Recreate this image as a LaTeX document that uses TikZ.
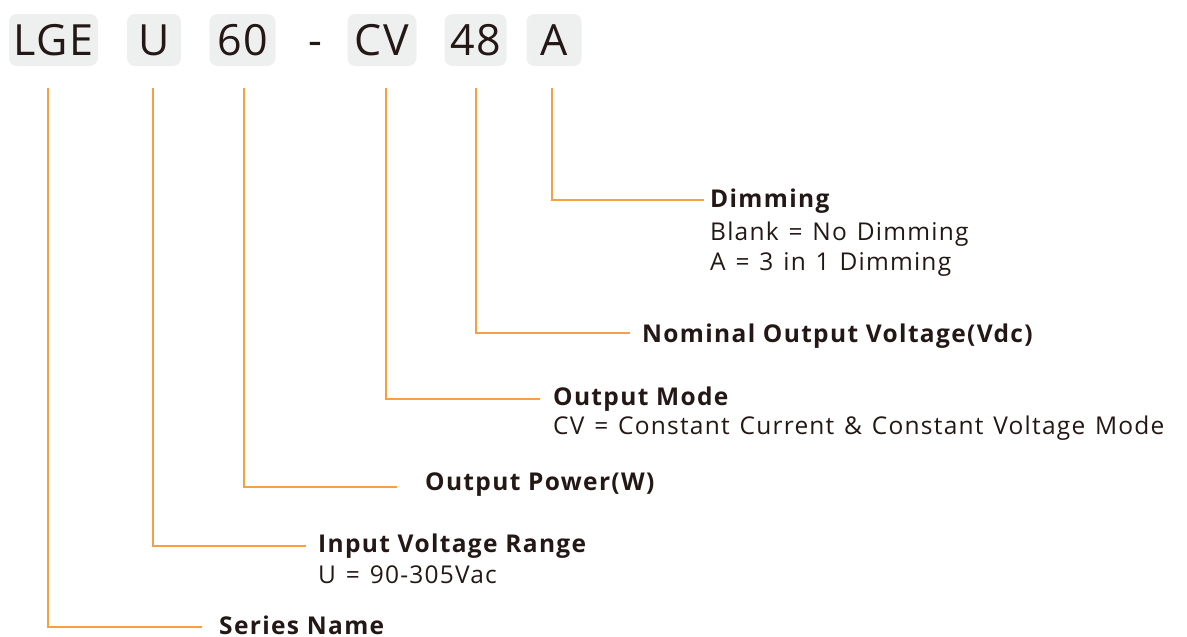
\documentclass[tikz,border=0pt]{standalone}
\usepackage{fontspec}
\setmainfont{Open Sans}[LetterSpace=3]
\newfontfamily\titlefont{Open Sans}[LetterSpace=5.5]
\newfontfamily\descfont{Open Sans}[LetterSpace=5,WordSpace={1.3,1,1}]
\definecolor{ink}{HTML}{231815}
\definecolor{boxfill}{HTML}{EEEFEF}
\definecolor{lineor}{HTML}{F5A043}
\begin{document}
\begin{tikzpicture}[x=1pt,y=-1pt,
  code/.style={fill=boxfill,rounded corners=8pt,minimum height=52pt,inner sep=0pt,
    text height=31pt,text depth=0pt,font=\fontsize{43}{43}\selectfont,text=ink},
  ttl/.style={anchor=base west,inner sep=0pt,font=\titlefont\fontsize{24.5}{24.5}\selectfont\bfseries,text=ink},
  desc/.style={anchor=base west,inner sep=0pt,font=\descfont\fontsize{24.5}{24.5}\selectfont,text=ink},
  conn/.style={draw=lineor,line width=1.4pt}]
\useasboundingbox (0,0) rectangle (1187,637);
\clip (0,0) rectangle (1187,637);
% code boxes
\node[code,minimum width=89pt] (bLGE) at (53.5,40) {LGE};
\node[code,minimum width=54pt] (bU) at (154,40) {U};
\node[code,minimum width=66pt] (b60) at (242.5,40) {60};
\node[inner sep=0pt,text height=31pt,text depth=0pt,font=\fontsize{43}{43}\selectfont,text=ink] (dash) at (315,40) {-};
\node[code,minimum width=69pt] (bCV) at (382,40) {CV};
\node[code,minimum width=62pt] (b48) at (475.5,40) {48};
\node[code,minimum width=55pt] (bA) at (554,40) {A};
% labels
\node[ttl] (tA) at (710,207) {Dimming};
\node[desc] (dA1) at (710,240) {Blank = No Dimming};
\node[desc] (dA2) at (710,270) {A = 3 in 1 Dimming};
\node[ttl] (t48) at (642,342) {Nominal Output Voltage(Vdc)};
\node[ttl] (tCV) at (553,405) {Output Mode};
\node[desc] (dCV) at (553,434) {CV = Constant Current \& Constant Voltage Mode};
\node[ttl] (t60) at (425,490) {Output Power(W)};
\node[ttl] (tU) at (318,552) {Input Voltage Range};
\node[desc] (dU) at (318,583) {U = 90-305Vac};
\node[ttl] (tLGE) at (219,634) {Series Name};
% connector end points
\coordinate (sA) at (552,88);   \coordinate (eA) at (704,200);
\coordinate (s48) at (476,88);  \coordinate (e48) at (630,333);
\coordinate (sCV) at (386,88);  \coordinate (eCV) at (540,399);
\coordinate (s60) at (244,88);  \coordinate (e60) at (397,487);
\coordinate (sU) at (153,88);   \coordinate (eU) at (306,546);
\coordinate (sLGE) at (48,88);  \coordinate (eLGE) at (202,627);
\draw[conn] (sA) |- (eA);
\draw[conn] (s48) |- (e48);
\draw[conn] (sCV) |- (eCV);
\draw[conn] (s60) |- (e60);
\draw[conn] (sU) |- (eU);
\draw[conn] (sLGE) |- (eLGE);
\end{tikzpicture}
\end{document}
